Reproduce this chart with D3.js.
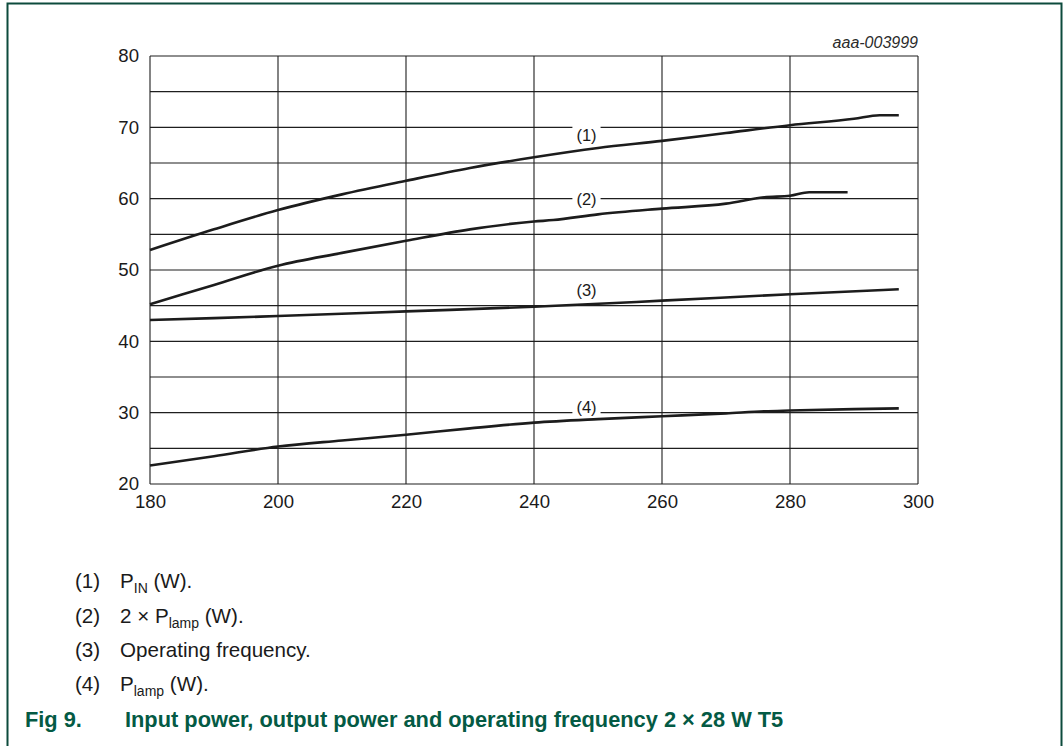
<!DOCTYPE html>
<html>
<head>
<meta charset="utf-8">
<script src="https://cdnjs.cloudflare.com/ajax/libs/d3/7.8.5/d3.min.js"></script>
<style>
    body { margin: 0; background: #fff; }
    text { font-family: "Liberation Sans", Arial, Helvetica, sans-serif; }
</style>
</head>
<body>
<div id="chart"></div>
<script>
// data (x = supply voltage, y = power / frequency)
var pinX = [180, 190, 200, 210, 220, 230, 240, 250, 260, 270, 280, 290, 294, 297];
var pinY = [52.8, 55.7, 58.4, 60.6, 62.5, 64.3, 65.8, 67.1, 68.1, 69.2, 70.3, 71.2, 71.7, 71.7];

var twoLampX = [180, 190, 200, 210, 220, 230, 240, 243, 250, 260, 270, 276, 280, 283, 289];
var twoLampY = [45.2, 47.9, 50.6, 52.4, 54.1, 55.7, 56.8, 57.0, 57.8, 58.6, 59.3, 60.2, 60.4, 60.9, 60.9];

var freqX = [180, 190, 200, 220, 240, 260, 280, 297];
var freqY = [43.0, 43.25, 43.55, 44.2, 44.85, 45.7, 46.6, 47.3];

var lampX = [180, 190, 200, 210, 220, 230, 240, 250, 260, 270, 276, 280, 290, 297];
var lampY = [22.6, 23.9, 25.25, 26.1, 26.9, 27.8, 28.6, 29.1, 29.5, 29.9, 30.2, 30.3, 30.5, 30.6];

var xTicks = [180, 200, 220, 240, 260, 280, 300];
var yTicks = [20, 30, 40, 50, 60, 70, 80];
var yGrid = [20, 25, 30, 35, 40, 45, 50, 55, 60, 65, 70, 75, 80];

// curve labels inside the plot, the ones on a gridline cut a gap in it
var curveLabels = ["(1)", "(2)", "(3)", "(4)"];
var curveLabelX = [248.2, 248.2, 248.2, 248.2];
var curveLabelY = [68.95, 59.9, 47.1, 30.8];
var curveLabelGap = [true, true, false, true];

var legendNum = ["(1)", "(2)", "(3)", "(4)"];

var svgWidth = 1063;
var svgHeight = 746;

var margin = { top: 56, left: 150, right: 145, bottom: 262 };
var width = svgWidth - margin.left - margin.right;   // 768
var height = svgHeight - margin.top - margin.bottom; // 428

var svg = d3.select("#chart")
    .append("svg")
    .attr("width", svgWidth)
    .attr("height", svgHeight);

// page frame (left, top, right edges)
svg.append("path")
    .attr("d", "M7.5,746 V3.5 H1061.5 V746")
    .attr("fill", "none")
    .attr("stroke", "#0d4b3c")
    .attr("stroke-width", 2);

var chartGroup = svg.append("g")
    .attr("transform", `translate(${margin.left}, ${margin.top})`);

var xScale = d3.scaleLinear().domain([180, 300]).range([0, width]);
var yScale = d3.scaleLinear().domain([20, 80]).range([height, 0]);

// grid
chartGroup.append("g").selectAll("line")
    .data(yGrid)
    .enter()
    .append("line")
    .attr("x1", 0)
    .attr("x2", width)
    .attr("y1", d => yScale(d))
    .attr("y2", d => yScale(d))
    .attr("stroke", "#1e1e1e")
    .attr("stroke-width", 1.1);

chartGroup.append("g").selectAll("line")
    .data(xTicks)
    .enter()
    .append("line")
    .attr("x1", d => xScale(d))
    .attr("x2", d => xScale(d))
    .attr("y1", 0)
    .attr("y2", height)
    .attr("stroke", "#1e1e1e")
    .attr("stroke-width", 1.1);

// axes, only the labels are visible
var bottomAxis = d3.axisBottom(xScale).tickValues(xTicks).tickSize(0).tickPadding(11);
var leftAxis = d3.axisLeft(yScale).tickValues(yTicks).tickSize(0).tickPadding(11);

var xAxisG = chartGroup.append("g")
    .attr("transform", `translate(0, ${height})`)
    .call(bottomAxis);
var yAxisG = chartGroup.append("g")
    .call(leftAxis);

[xAxisG, yAxisG].forEach(function(g) {
    g.select(".domain").remove();
    g.selectAll("text")
        .attr("font-family", "'Liberation Sans', Arial, sans-serif")
        .attr("font-size", "18.6px")
        .attr("fill", "#1a1a1a");
});

// figure id
chartGroup.append("text")
    .attr("x", width)
    .attr("y", -8)
    .attr("text-anchor", "end")
    .attr("font-size", "16px")
    .attr("font-style", "italic")
    .attr("fill", "#2a2a2a")
    .text("aaa-003999");

// curve labels with white gap
var labelGroup = chartGroup.append("g");
curveLabels.forEach(function(lbl, i) {
    var t = labelGroup.append("text")
        .attr("x", xScale(curveLabelX[i]))
        .attr("y", yScale(curveLabelY[i]))
        .attr("dy", "0.35em")
        .attr("text-anchor", "middle")
        .attr("font-size", "16.5px")
        .attr("fill", "#1a1a1a")
        .text(lbl);
    if (curveLabelGap[i]) {
        var bb = t.node().getBBox();
        labelGroup.insert("rect", "text")
            .attr("x", bb.x - 4)
            .attr("y", bb.y)
            .attr("width", bb.width + 8)
            .attr("height", bb.height)
            .attr("fill", "#fff");
    }
});

// curves
var line = d3.line()
    .x(d => xScale(d[0]))
    .y(d => yScale(d[1]))
    .curve(d3.curveMonotoneX);

var series = [
    d3.zip(pinX, pinY),
    d3.zip(twoLampX, twoLampY),
    d3.zip(freqX, freqY),
    d3.zip(lampX, lampY)
];

chartGroup.append("g").selectAll("path")
    .data(series)
    .enter()
    .append("path")
    .attr("d", line)
    .attr("fill", "none")
    .attr("stroke", "#1c1c1c")
    .attr("stroke-width", 2.6);

// legend below the chart
var legend = svg.append("g").attr("font-size", "20.6px").attr("fill", "#1a1a1a");
var legendBase = [588, 622.5, 656.5, 690.5];

legendNum.forEach(function(n, i) {
    legend.append("text")
        .attr("x", 75)
        .attr("y", legendBase[i])
        .text(n);
});

var l1 = legend.append("text").attr("x", 120).attr("y", legendBase[0]);
l1.append("tspan").text("P");
l1.append("tspan").attr("font-size", "14px").attr("dy", 5).text("IN");
l1.append("tspan").attr("dy", -5).text(" (W).");

var l2 = legend.append("text").attr("x", 120).attr("y", legendBase[1]);
l2.append("tspan").text("2 \u00d7 P");
l2.append("tspan").attr("font-size", "14px").attr("dy", 5).text("lamp");
l2.append("tspan").attr("dy", -5).text(" (W).");

legend.append("text").attr("x", 120).attr("y", legendBase[2]).text("Operating frequency.");

var l4 = legend.append("text").attr("x", 120).attr("y", legendBase[3]);
l4.append("tspan").text("P");
l4.append("tspan").attr("font-size", "14px").attr("dy", 5).text("lamp");
l4.append("tspan").attr("dy", -5).text(" (W).");

// caption
var caption = svg.append("g")
    .attr("font-size", "21.8px")
    .attr("font-weight", "bold")
    .attr("fill", "#045a44");
caption.append("text").attr("x", 25).attr("y", 727).text("Fig 9.");
caption.append("text").attr("x", 125).attr("y", 727)
    .text("Input power, output power and operating frequency 2 \u00d7 28 W T5");
</script>
</body>
</html>
